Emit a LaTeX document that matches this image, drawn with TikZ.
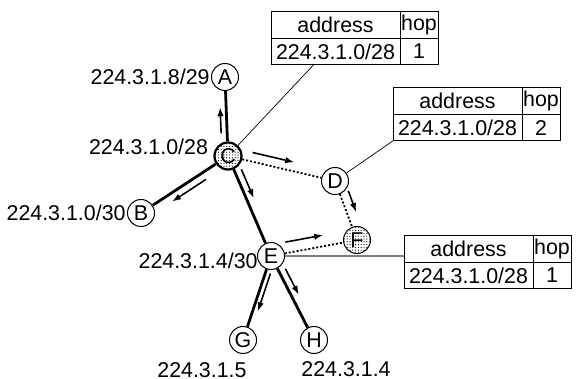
\documentclass[tikz,border=0pt]{standalone}
\usepackage{fontspec}
\setmainfont{Liberation Sans}
\usetikzlibrary{positioning,calc,arrows.meta,patterns.meta}
\tikzset{
  router/.style={circle,draw,line width=0.5pt,minimum size=13.5pt,inner sep=0pt,font=\fontsize{10.7}{13}\selectfont},
  shaded/.style={pattern={Dots[distance=1.4pt,radius=0.3pt]}},
  lbl/.style={inner sep=0.5pt,font=\fontsize{10.7}{13}\selectfont},
  cell/.style={draw,line width=0.5pt,minimum height=13.2pt,inner sep=0pt,outer sep=0pt,font=\fontsize{10.7}{13}\selectfont},
  link/.style={line width=1.4pt},
  probe/.style={line width=0.9pt,dash pattern=on 1pt off 1pt},
  flow/.style={line width=0.8pt,-{Latex[length=4.5pt,width=3.2pt]}},
  lead/.style={line width=0.35pt}
}
\newcommand{\flowarrow}[5]{\draw[flow] ($(#1)!#3!(#2)!#5!90:(#2)$) -- ($(#1)!#4!(#2)!#5!90:(#2)$);}
\newcommand{\hoptable}[3]{%
  \node[cell,minimum width=64.5pt,anchor=north west] (#1a1) at #2 {address};
  \node[cell,minimum width=19pt,anchor=north west] (#1h1) at (#1a1.north east) {hop};
  \node[cell,minimum width=64.5pt,anchor=north west] (#1a2) at (#1a1.south west) {224.3.1.0/28};
  \node[cell,minimum width=19pt,anchor=north west] (#1h2) at (#1a2.north east) {#3};
}
\begin{document}
\begin{tikzpicture}[x=0.5pt,y=-0.5pt]
  \useasboundingbox (0,0) rectangle (579,379);

  \node[router] (A) at (225,77) {A};
  \node[router,shaded,line width=1.1pt] (C) at (228,156) {C};
  \node[router] (B) at (141,213) {B};
  \node[router] (D) at (335,181) {D};
  \node[router,shaded] (F) at (357,240) {F};
  \node[router] (E) at (271,256) {E};
  \node[router] (G) at (243,340) {G};
  \node[router] (H) at (314,340) {H};

  \node[lbl,left=0pt of A] (lA) {224.3.1.8/29};
  \node[lbl,left=2pt of C,yshift=4.5pt] (lC) {224.3.1.0/28};
  \node[lbl,left=0pt of B] (lB) {224.3.1.0/30};
  \node[lbl,left=-1pt of E,yshift=-2.5pt] (lE) {224.3.1.4/30};
  \node[lbl,anchor=north east] (lG) at ([shift={(2.5pt,-3.5pt)}]G.south) {224.3.1.5};
  \node[lbl,anchor=north west] (lH) at ([shift={(-7pt,-3pt)}]H.south) {224.3.1.4};

  \draw[link] (A) -- (C);
  \draw[link] (C) -- (B);
  \draw[link] (C) -- (E);
  \draw[link] (E) -- (G);
  \draw[link] (E) -- (H);
  \draw[probe] (C) -- (D);
  \draw[probe] (D) -- (F);
  \draw[probe] (E) -- (F);

  \flowarrow{C}{A}{0.29}{0.62}{3pt}
  \flowarrow{C}{D}{0.21}{0.6}{4.5pt}
  \flowarrow{C}{E}{0.16}{0.45}{3.5pt}
  \flowarrow{D}{F}{0.22}{0.58}{4.5pt}
  \flowarrow{E}{F}{0.19}{0.63}{5.5pt}
  \flowarrow{C}{B}{0.3}{0.69}{3.75pt}
  \flowarrow{E}{G}{0.19}{0.64}{2.5pt}
  \flowarrow{E}{H}{0.19}{0.5}{3.5pt}

  \hoptable{t1}{(271,12)}{1}
  \hoptable{t2}{(393,88)}{2}
  \hoptable{t3}{(404,236)}{1}

  \draw[lead] (C) -- ($(t1a2.south west)!0.33!(t1a2.south east)$);
  \draw[lead] (D) -- (t2a2.south west);
  \draw[lead,gray,line width=0.6pt] (E) -- (E -| t3a1.west);
\end{tikzpicture}
\end{document}
